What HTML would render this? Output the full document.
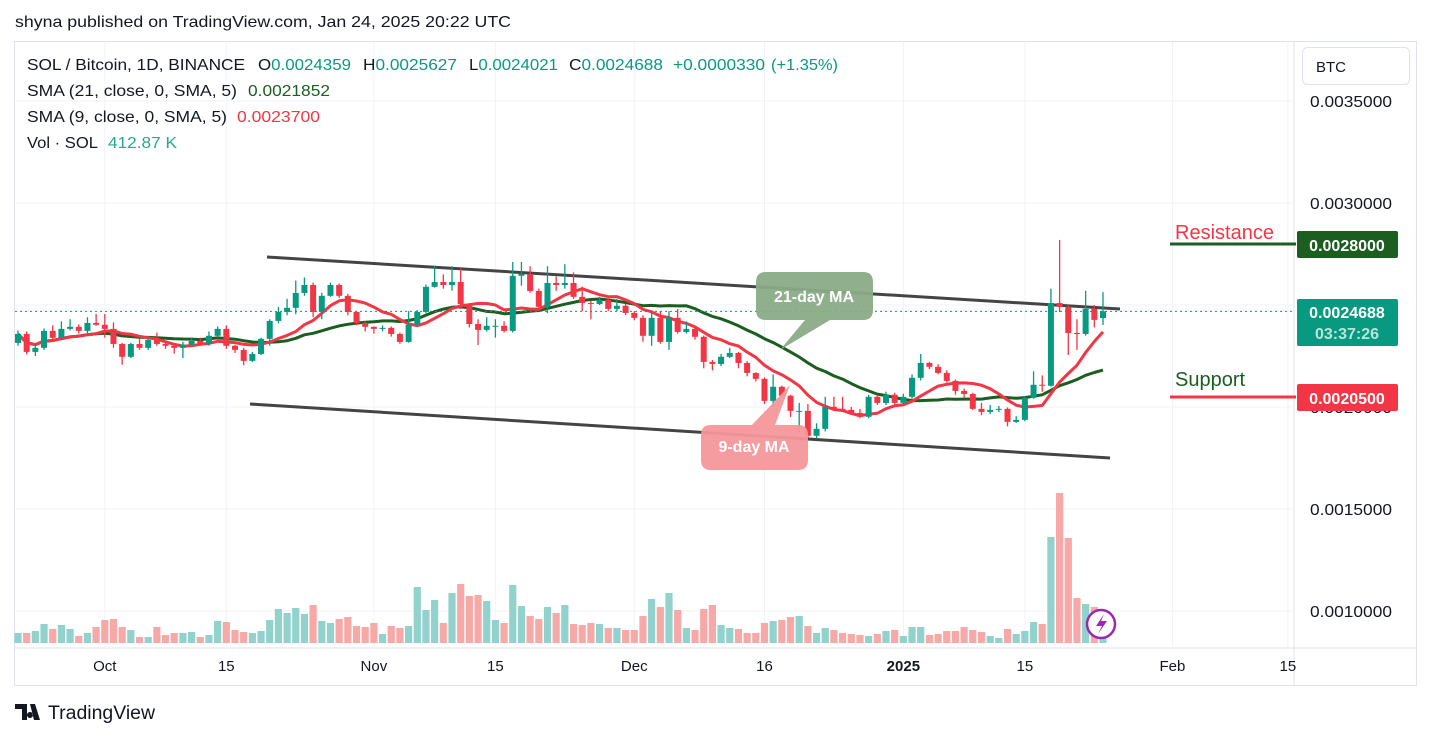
<!DOCTYPE html>
<html><head><meta charset="utf-8">
<style>
body{margin:0;background:#fff;width:1431px;height:738px;overflow:hidden;font-family:"Liberation Sans",sans-serif;}
svg text{font-family:"Liberation Sans",sans-serif;}
</style></head>
<body>
<svg id="chart" width="1431" height="738" xmlns="http://www.w3.org/2000/svg">
<text x="15" y="27" font-size="16" fill="#131722" textLength="496" lengthAdjust="spacingAndGlyphs">shyna published on TradingView.com, Jan 24, 2025 20:22 UTC</text>
<rect x="14.5" y="41.5" width="1402" height="644" fill="none" stroke="#e0e3eb"/>
<line x1="1294" y1="42" x2="1294" y2="686" stroke="#e0e3eb"/>
<line x1="15" y1="648" x2="1416" y2="648" stroke="#e0e3eb"/>
<g id="grid"></g>
<g id="vol"></g>
<g id="trend">
<line x1="267" y1="257" x2="1120" y2="309" stroke="#444" stroke-width="3"/>
<line x1="250" y1="404" x2="1110" y2="458" stroke="#444" stroke-width="3"/>
</g>
<g id="ma"></g>
<g id="candles"></g>
<line id="lastline" x1="15" x2="1294" stroke="#089981" stroke-dasharray="2,3"/>
<g id="yaxis"></g>
<g id="xaxis"></g>
<g>
<path d="M766 272 H863 Q873 272 873 282 V310 Q873 320 863 320 H830 L780 350 L805 320 H766 Q756 320 756 310 V282 Q756 272 766 272 Z" fill="#8aab86" opacity="0.95"/>
<text x="814" y="302" font-size="16" font-weight="bold" fill="#fff" text-anchor="middle">21-day MA</text>
</g>
<g>
<path d="M711 425 H752 L790 385 L775 425 H798 Q808 425 808 435 V460 Q808 470 798 470 H711 Q701 470 701 460 V435 Q701 425 711 425 Z" fill="#f4979c" opacity="0.95"/>
<text x="754" y="452" font-size="16" font-weight="bold" fill="#fff" text-anchor="middle">9-day MA</text>
</g>
<text x="1175" y="239" font-size="20" fill="#f23645">Resistance</text>
<line x1="1170" y1="244" x2="1296" y2="244" stroke="#1b5e20" stroke-width="3"/>
<rect x="1297" y="231" width="101" height="27" rx="2" fill="#1b5e20"/>
<text x="1347" y="251" font-size="16" font-weight="bold" fill="#fff" text-anchor="middle">0.0028000</text>
<text x="1175" y="386" font-size="20" fill="#1b5e20">Support</text>
<line x1="1170" y1="397" x2="1296" y2="397" stroke="#f23645" stroke-width="3"/>
<rect x="1297" y="384" width="101" height="27" rx="2" fill="#f23645"/>
<text x="1347" y="404" font-size="16" font-weight="bold" fill="#fff" text-anchor="middle">0.0020500</text>
<rect x="1297" y="299" width="101" height="47" rx="2" fill="#089981"/>
<text x="1347" y="318" font-size="16" font-weight="bold" fill="#fff" text-anchor="middle">0.0024688</text>
<text x="1347" y="339" font-size="16" font-weight="bold" fill="#b9e3dc" text-anchor="middle">03:37:26</text>
<rect x="1302.5" y="47.5" width="107" height="37" rx="5" fill="#fff" stroke="#e0e3eb"/>
<text x="1316" y="72" font-size="15" fill="#131722">BTC</text>
<g font-size="16" fill="#131722">
<text x="27" y="70" textLength="218" lengthAdjust="spacingAndGlyphs">SOL / Bitcoin, 1D, BINANCE</text>
<text x="258" y="70" textLength="93" lengthAdjust="spacingAndGlyphs">O<tspan fill="#089981">0.0024359</tspan></text>
<text x="363" y="70" textLength="94" lengthAdjust="spacingAndGlyphs">H<tspan fill="#089981">0.0025627</tspan></text>
<text x="469" y="70" textLength="89" lengthAdjust="spacingAndGlyphs">L<tspan fill="#089981">0.0024021</tspan></text>
<text x="569" y="70" textLength="94" lengthAdjust="spacingAndGlyphs">C<tspan fill="#089981">0.0024688</tspan></text>
<text x="673" y="70" textLength="92" lengthAdjust="spacingAndGlyphs" fill="#089981">+0.0000330</text>
<text x="771" y="70" textLength="67" lengthAdjust="spacingAndGlyphs" fill="#089981">(+1.35%)</text>
<text x="27" y="96" textLength="210" lengthAdjust="spacingAndGlyphs">SMA (21, close, 0, SMA, 5)</text>
<text x="248" y="96" textLength="82" lengthAdjust="spacingAndGlyphs" fill="#1b5e20">0.0021852</text>
<text x="27" y="122" textLength="200" lengthAdjust="spacingAndGlyphs">SMA (9, close, 0, SMA, 5)</text>
<text x="237" y="122" textLength="83" lengthAdjust="spacingAndGlyphs" fill="#f23645">0.0023700</text>
<text x="27" y="148" textLength="71" lengthAdjust="spacingAndGlyphs">Vol · SOL</text>
<text x="108" y="148" textLength="69" lengthAdjust="spacingAndGlyphs" fill="#22ab94">412.87 K</text>
</g>
<g>
<circle cx="1101" cy="624" r="14" fill="#fff" stroke="#9c27b0" stroke-width="2.5"/>
<path d="M1104 614 L1096 626 H1102 L1098 634 L1107 621 H1101 Z" fill="#9c27b0"/>
</g>
<g>
<path d="M15 704 H27 V720 H22 V709 H15 Z M30 704 H35 L40 720 H34 Z M30 712 a3 3 0 1 0 0.01 0Z" fill="#131722"/>
<text x="48" y="719" font-size="19" fill="#131722" textLength="107" lengthAdjust="spacingAndGlyphs">TradingView</text>
</g>
</svg>
<script>
// prices in µBTC (1e-6 BTC)
const closes=[2358,2270,2290,2373,2339,2383,2393,2373,2412,2403,2383,2309,2246,2309,2290,2329,2309,2300,2290,2305,2324,2309,2349,2383,2300,2280,2226,2260,2334,2422,2466,2486,2559,2598,2466,2545,2598,2545,2466,2412,2393,2383,2388,2358,2319,2403,2466,2589,2613,2598,2613,2505,2407,2378,2398,2398,2373,2643,2652,2569,2491,2608,2598,2608,2540,2510,2505,2525,2481,2496,2461,2437,2349,2437,2319,2437,2368,2383,2344,2221,2211,2246,2265,2216,2167,2138,2030,2099,2055,1981,1981,1859,1893,2001,1991,1986,1971,1952,2050,2020,2060,2020,2050,2143,2216,2197,2167,2128,2079,2064,1991,1976,1986,1991,1927,1937,2045,2109,2104,2510,2491,2363,2358,2481,2427,2469];
const opens=[2314,2358,2270,2290,2373,2339,2383,2393,2373,2412,2403,2383,2309,2246,2309,2290,2329,2309,2300,2290,2305,2324,2309,2349,2383,2300,2280,2226,2260,2334,2422,2466,2486,2559,2598,2466,2545,2598,2545,2466,2412,2393,2383,2388,2358,2319,2403,2466,2589,2613,2598,2613,2505,2407,2378,2398,2398,2373,2643,2652,2569,2491,2608,2598,2608,2540,2510,2505,2525,2481,2496,2461,2437,2349,2437,2319,2437,2368,2383,2344,2221,2211,2246,2265,2216,2167,2138,2030,2099,2055,1981,1981,1859,1893,2001,1991,1986,1971,1952,2050,2020,2060,2020,2050,2143,2216,2197,2167,2128,2079,2064,1991,1976,1986,1991,1927,1937,2045,2109,2104,2510,2491,2363,2358,2481,2436];
const highs=[2375,2370,2310,2385,2400,2420,2430,2405,2440,2456,2456,2415,2315,2315,2335,2335,2365,2325,2305,2320,2340,2340,2370,2395,2400,2305,2290,2270,2340,2430,2490,2530,2620,2635,2610,2560,2610,2605,2555,2470,2420,2395,2400,2395,2365,2470,2475,2600,2692,2650,2690,2680,2510,2430,2440,2430,2420,2711,2711,2690,2580,2690,2640,2700,2660,2590,2520,2540,2530,2530,2505,2470,2450,2470,2470,2470,2480,2420,2390,2350,2230,2260,2290,2270,2225,2170,2145,2160,2105,2060,2020,2015,1920,2050,2050,2050,2000,1990,2060,2060,2075,2070,2065,2160,2260,2222,2210,2180,2135,2090,2070,2020,2010,2005,1998,1955,2050,2175,2155,2580,2819,2500,2430,2570,2500,2563];
const lows=[2300,2258,2250,2280,2330,2330,2375,2360,2360,2398,2340,2290,2207,2240,2280,2280,2300,2285,2262,2240,2300,2300,2300,2340,2285,2265,2205,2220,2255,2300,2410,2450,2455,2545,2440,2430,2540,2535,2450,2400,2370,2360,2370,2345,2310,2315,2395,2460,2585,2580,2570,2480,2390,2304,2370,2340,2365,2365,2595,2560,2470,2460,2570,2580,2530,2470,2430,2500,2470,2470,2450,2425,2320,2300,2310,2280,2360,2360,2330,2190,2180,2200,2240,2190,2150,2125,2015,2000,2045,1950,1878,1850,1845,1880,1985,1975,1962,1945,1945,2010,2010,2000,2012,2040,2130,2185,2160,2120,2060,2045,1985,1960,1965,1975,1905,1922,1930,2040,2075,2100,2465,2255,2280,2350,2390,2402];
// volume in thousands of SOL
const volumes=[450,450,540,855,630,810,630,315,450,720,1035,1080,720,585,270,270,720,360,450,450,495,270,360,990,945,585,495,450,540,1035,1530,1350,1575,1305,1710,990,900,1080,1170,765,720,900,405,765,675,765,2520,1485,1935,900,2250,2655,2115,2160,1890,1035,900,2610,1665,1215,1080,1620,1350,1710,855,810,900,855,675,675,585,585,1215,1980,1620,2250,1485,675,585,1530,1710,810,675,630,450,450,900,990,1035,1170,1215,765,450,675,585,450,405,360,315,405,540,585,315,720,720,360,405,540,540,720,585,495,315,225,630,405,540,945,855,4770,6750,4725,2025,1755,1620,413];
const yTicks=[3500,3000,2500,2000,1500,1000];
const yTickLabels=["0.0035000","0.0030000","0.0025000","0.0020000","0.0015000","0.0010000"];
const xTickIdx=[10,24,41,55,71,86,102,116,133,146.3];
const xTickLabels=["Oct","15","Nov","15","Dec","16","2025","15","Feb","15"];

const NS="http://www.w3.org/2000/svg";
function mk(tag,attrs,parent){const e=document.createElementNS(NS,tag);for(const k in attrs)e.setAttribute(k,attrs[k]);parent.appendChild(e);return e;}
const X=i=>18+i*8.68;
const Y=p=>101+(3500-p)*0.204;
const maxVol=Math.max(...volumes);
const VH=v=>v/maxVol*150;
const grid=document.getElementById('grid');
yTicks.forEach((t,k)=>{
  const l=mk('line',{x1:15,x2:1294,y1:Y(t),y2:Y(t),stroke:'#f0f3fa'},grid);
  
  
  const tx=mk('text',{x:1310,y:Y(t)+6,'font-size':16,fill:'#131722',textLength:82,lengthAdjust:'spacingAndGlyphs'},document.getElementById('yaxis'));
  tx.textContent=yTickLabels[k];
  
  
});
xTickIdx.forEach((d,k)=>{
  const l=mk('line',{x1:X(d),x2:X(d),y1:42,y2:648,stroke:'#f0f3fa'},grid);
  
  
  const tx=mk('text',{x:X(d),y:671,'font-size':15,fill:'#131722','text-anchor':'middle','font-weight':xTickLabels[k]==='2025'?'bold':'normal'},document.getElementById('xaxis'));
  tx.textContent=xTickLabels[k];
  
  
});
const vg=document.getElementById('vol');
volumes.forEach((v,i)=>{
  const up=closes[i]>=opens[i];
  const h=VH(v);
  const r=mk('rect',{x:X(i)-3.6,y:643-h,width:7.2,height:h,fill:up?'#92d2cc':'#f7a9a7'},vg);
  
  
});
function sma(n){return closes.map((c,i)=>{const s=closes.slice(Math.max(0,i-n+1),i+1);return s.reduce((a,b)=>a+b,0)/s.length;});}
const mg=document.getElementById('ma');
[[21,'#1b5e20'],[9,'#f23645']].forEach(([n,col])=>{
  const s=sma(n);
  const p=mk('path',{d:s.map((v,i)=>(i?'L':'M')+X(i).toFixed(1)+' '+Y(v).toFixed(1)).join(' '),fill:'none',stroke:col,'stroke-width':3,'stroke-linejoin':'round'},mg);
  
  
});
const cg=document.getElementById('candles');
closes.forEach((c,i)=>{
  const o=opens[i],up=c>=o,col=up?'#089981':'#f23645';
  const g=mk('g',{},cg);
  
  
  mk('line',{x1:X(i),x2:X(i),y1:Y(highs[i]),y2:Y(lows[i]),stroke:col,'stroke-width':1.3},g);
  const top=Y(Math.max(o,c)),bot=Y(Math.min(o,c));
  mk('rect',{x:X(i)-3,y:top,width:6,height:Math.max(1,bot-top),fill:col},g);
});
const ll=document.getElementById('lastline');
ll.setAttribute('y1',Y(closes[closes.length-1]));
ll.setAttribute('y2',Y(closes[closes.length-1]));
</script>
</body></html>
